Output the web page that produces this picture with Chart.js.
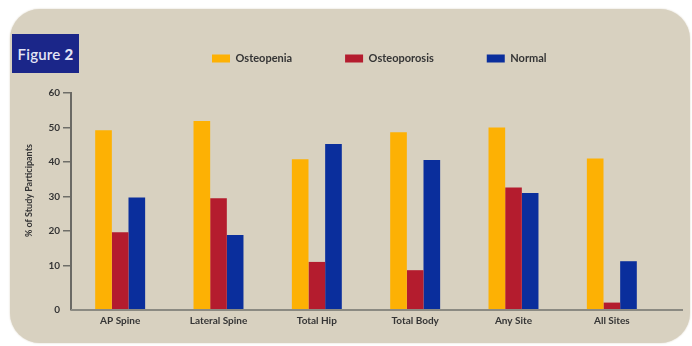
<!DOCTYPE html>
<html>
<head>
<meta charset="utf-8">
<script src="https://cdn.jsdelivr.net/npm/chart.js@4/dist/chart.umd.min.js"></script>
<style>
  html, body { margin: 0; padding: 0; background: #ffffff; }
  body { width: 692px; height: 346px; position: relative; overflow: hidden; }
  #panel { position: absolute; left: 10px; top: 9px; width: 680px; height: 334px;
           border-radius: 30px; background: #d8d1c0; box-shadow: 0 0 2px #d8d1c0; }
  #fig { position: absolute; left: 12px; top: 34px; width: 67px; height: 39px;
         background: #1b2689; color: #e3e5f5; font: 600 15px Lato, sans-serif;
         display: flex; align-items: center; justify-content: center; letter-spacing: 0.2px; }
  #fig b { font-weight: 900; margin-left: 4px; }
  canvas { position: absolute; left: 0; top: 0; }
</style>
</head>
<body>
<div id="panel"></div>
<canvas id="c" width="692" height="346"></canvas>
<div id="fig">Figure<b>2</b></div>
<script>
// ---- data ----
const categories = ['AP Spine', 'Lateral Spine', 'Total Hip', 'Total Body', 'Any Site', 'All Sites'];
const seriesNames = ['Osteopenia', 'Osteoporosis', 'Normal'];
const osteopenia   = [49.2, 51.9, 40.8, 48.6, 50.0, 41.0];
const osteoporosis = [19.6, 29.5, 11.0, 8.6, 32.6, -0.8];
const normal       = [29.7, 18.8, 45.2, 40.6, 31.0, 11.2];
const yTickValues = [10, 20, 30, 40, 50, 60];
const yZeroLabel = '0';
const yAxisTitle = '% of Study Participants';

// ---- styling / layout ----
const colors = ['#fdb104', '#b41c2e', '#0a2e9c'];
const yMin = -2.95, yMax = 60;
const textColor = '#353535';

const legendShift = {
  id: 'legendShift',
  beforeDraw(chart) {
    const lg = chart.legend;
    if (!lg || !lg.lineWidths || !lg.lineWidths.length) return;
    const pad = lg.options.labels.padding;
    const start = (lg.left + pad + lg.right - lg.lineWidths[0]) / 2;
    const dx = 212 - start;
    lg.left += dx; lg.right += dx;
    lg.top = 0;
  }
};
const xAxisLine = {
  id: 'xAxisLine',
  afterDatasetsDraw(chart) {
    const ctx = chart.ctx, a = chart.chartArea;
    ctx.save();
    ctx.strokeStyle = '#8b8a82';
    ctx.lineWidth = 2;
    ctx.beginPath();
    ctx.moveTo(a.left, a.bottom);
    ctx.lineTo(683, a.bottom);
    ctx.stroke();
    ctx.restore();
  }
};

const seriesData = [osteopenia, osteoporosis, normal];
new Chart(document.getElementById('c'), {
  type: 'bar',
  data: {
    labels: categories,
    datasets: seriesNames.map((n, i) => ({
      label: n,
      data: seriesData[i],
      backgroundColor: colors[i],
      borderWidth: 0,
      base: yMin,
      barPercentage: 1,
      categoryPercentage: 0.508
    }))
  },
  options: {
    responsive: false,
    devicePixelRatio: 1,
    animation: false,
    layout: { padding: { left: 0, right: 31, top: 19, bottom: 19 } },
    plugins: {
      tooltip: { enabled: false },
      legend: {
        position: 'top',
        labels: {
          boxWidth: 18, boxHeight: 8, padding: 53,
          color: textColor,
          font: { family: 'Lato', size: 11, weight: 'bold' }
        }
      }
    },
    scales: {
      x: {
        type: 'category',
        offset: true,
        afterFit(s) { s.height = 17; },
        grid: { display: false, drawTicks: false },
        border: { display: false },
        ticks: { color: textColor, padding: 5, font: { family: 'Lato', size: 10, weight: 'bold' } }
      },
      y: {
        min: yMin, max: yMax,
        afterFit(s) { s.width = 71; },
        afterBuildTicks(s) {
          s.ticks = [{ value: yMin }].concat(yTickValues.map(v => ({ value: v })));
        },
        grid: {
          drawOnChartArea: false, drawTicks: true, tickLength: 8,
          color: ctx => (ctx.tick && ctx.tick.value === yMin) ? 'rgba(0,0,0,0)' : '#6f6e68',
          lineWidth: 1.5
        },
        border: { display: true, color: '#6a6964', width: 2 },
        ticks: {
          color: textColor, padding: 3,
          font: { family: 'Lato', size: 10, weight: 'bold' },
          callback: v => v === yMin ? yZeroLabel : String(v)
        },
        title: {
          display: true,
          text: '          ' + yAxisTitle,
          color: textColor,
          padding: { top: 24, bottom: 0 },
          font: { family: 'Lato', size: 9, weight: 'bold' }
        }
      }
    }
  },
  plugins: [legendShift, xAxisLine]
});
</script>
</body>
</html>
